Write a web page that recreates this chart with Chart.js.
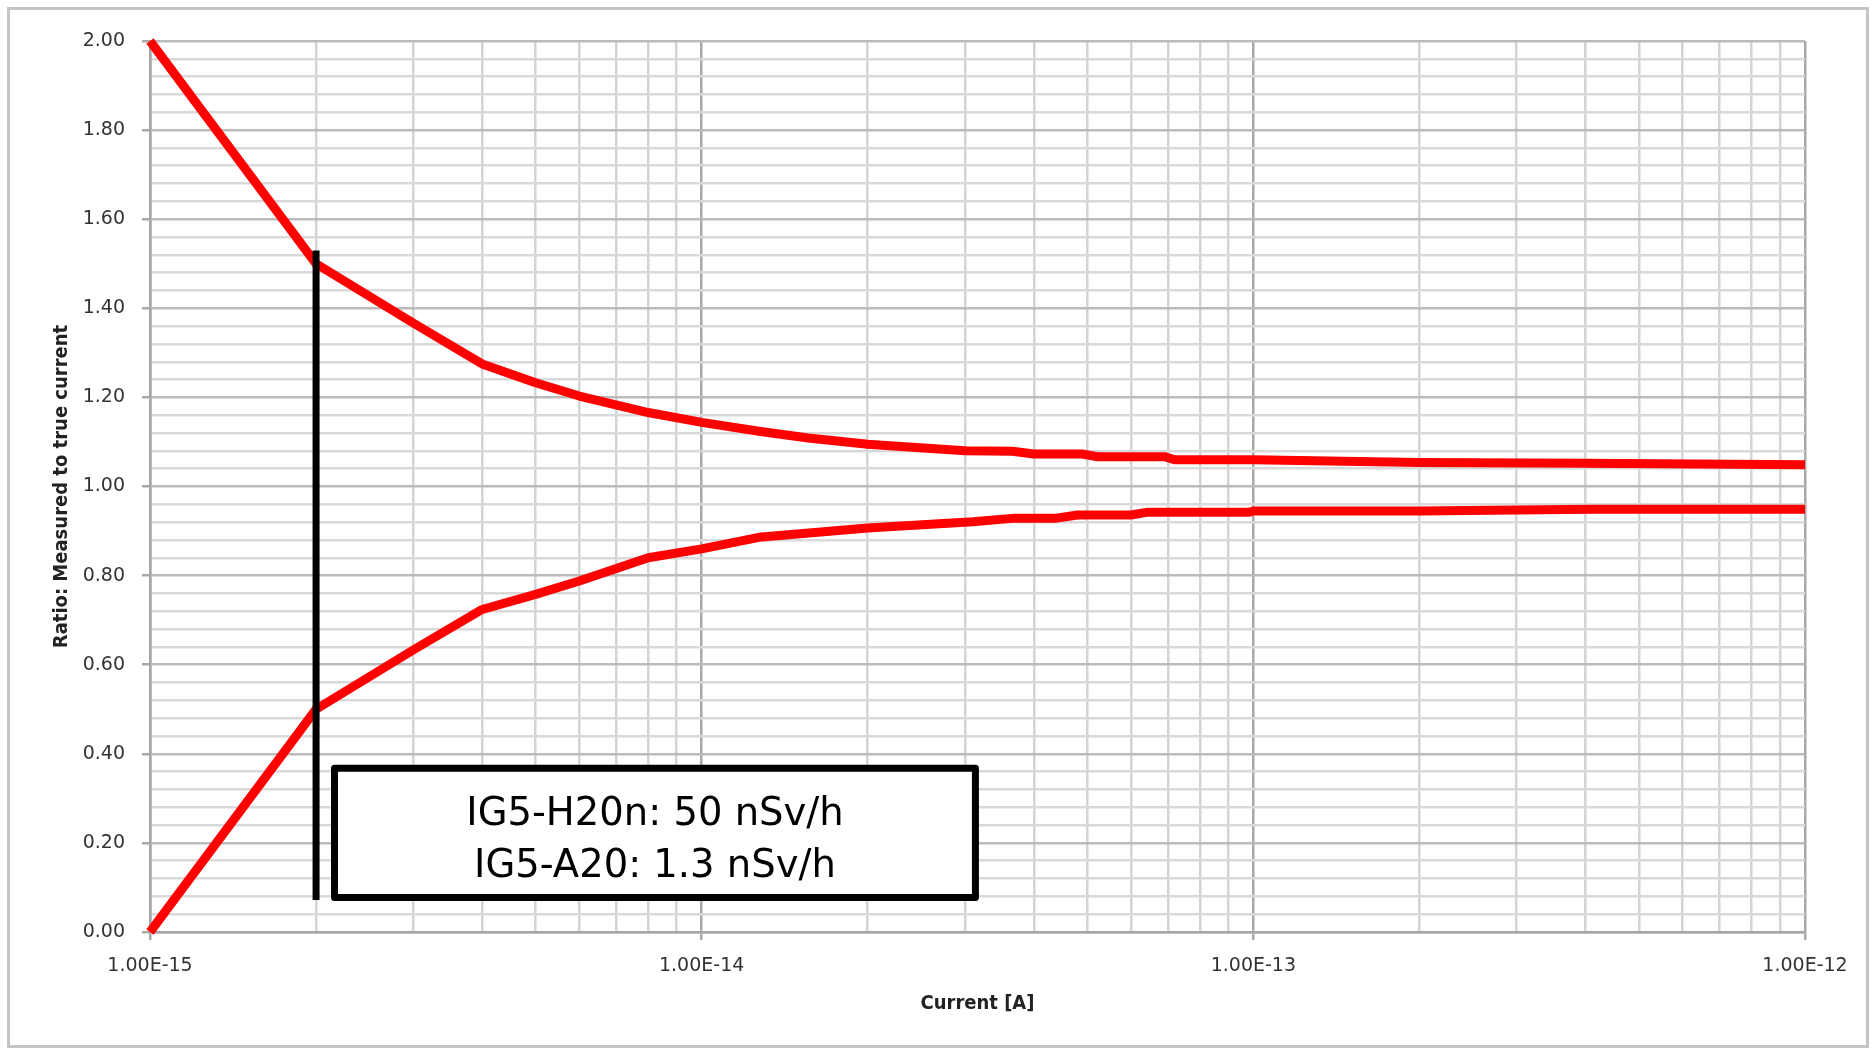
<!DOCTYPE html>
<html>
<head>
<meta charset="utf-8">
<script src="https://cdn.jsdelivr.net/npm/chart.js@4.4.1/dist/chart.umd.min.js"></script>
<style>
  html, body { margin: 0; padding: 0; background: #ffffff; }
  #wrap { position: relative; width: 1875px; height: 1052px; }
</style>
</head>
<body>
<div id="wrap"><canvas id="c" width="1875" height="1052"></canvas></div>
<script>
// ---- data ----
const upperCurrent = [1e-15, 2e-15, 3e-15, 4e-15, 5e-15, 6e-15, 8e-15, 1e-14, 1.27e-14, 1.56e-14, 2e-14, 3e-14, 3.66e-14, 4.0e-14, 4.9e-14, 5.2e-14, 6.9e-14, 7.2e-14, 1e-13, 2e-13, 4e-13, 1e-12];
const upperRatio   = [2.00, 1.50, 1.367, 1.275, 1.233, 1.203, 1.166, 1.144, 1.124, 1.109, 1.095, 1.080, 1.079, 1.073, 1.073, 1.067, 1.067, 1.060, 1.060, 1.054, 1.052, 1.049];

const lowerCurrent = [1e-15, 2e-15, 3e-15, 4e-15, 5e-15, 6e-15, 8e-15, 1e-14, 1.27e-14, 2e-14, 3.1e-14, 3.7e-14, 4.4e-14, 4.8e-14, 6e-14, 6.4e-14, 9.8e-14, 1e-13, 2e-13, 4.1e-13, 1e-12];
const lowerRatio   = [0.00, 0.50, 0.633, 0.724, 0.758, 0.788, 0.840, 0.860, 0.886, 0.907, 0.921, 0.929, 0.929, 0.936, 0.936, 0.942, 0.942, 0.945, 0.945, 0.949, 0.949];

const markerCurrent = [2e-15, 2e-15];
const markerRatio   = [1.53, 0.072];

// tick labels / grid
const xDecades = [1e-15, 1e-14, 1e-13, 1e-12];
const xMinorMultiples = [2, 3, 4, 5, 6, 7, 8, 9];
const yMajorTicks = [0.00, 0.20, 0.40, 0.60, 0.80, 1.00, 1.20, 1.40, 1.60, 1.80, 2.00];
const yMinorPerMajor = 5;

// annotation box (data units)
const boxX = [2.16e-15, 3.135e-14];
const boxY = [0.3674, 0.0775];
const boxLines = ['IG5-H20n: 50 nSv/h', 'IG5-A20: 1.3 nSv/h'];
const boxLineBaselines = [0.2404, 0.1236];

const xTitle = 'Current [A]';
const yTitle = 'Ratio: Measured to true current';

// ---- helpers ----
const toXY = (xs, ys) => xs.map((x, i) => ({ x: x, y: ys[i] }));

const frameAndBox = {
  id: 'frameAndBox',
  beforeDraw(chart) {
    const ctx = chart.ctx;
    ctx.save();
    ctx.fillStyle = '#ffffff';
    ctx.fillRect(0, 0, chart.width, chart.height);
    ctx.restore();
  },
  afterDraw(chart) {
    const ctx = chart.ctx;
    const xs = chart.scales.x, ys = chart.scales.y;
    // annotation box
    const l = xs.getPixelForValue(boxX[0]), r = xs.getPixelForValue(boxX[1]);
    const t = ys.getPixelForValue(boxY[0]), b = ys.getPixelForValue(boxY[1]);
    ctx.save();
    ctx.fillStyle = '#ffffff';
    ctx.fillRect(l, t, r - l, b - t);
    ctx.lineWidth = 7;
    ctx.strokeStyle = '#000000';
    ctx.lineJoin = 'round';
    ctx.strokeRect(l, t, r - l, b - t);
    ctx.fillStyle = '#000000';
    ctx.font = '38.5px "DejaVu Sans"';
    ctx.textAlign = 'center';
    ctx.textBaseline = 'alphabetic';
    const cx = (l + r) / 2;
    boxLines.forEach((s, i) => ctx.fillText(s, cx, ys.getPixelForValue(boxLineBaselines[i])));
    ctx.restore();
    // outer frame
    ctx.save();
    ctx.strokeStyle = '#c4c4c4';
    ctx.lineWidth = 3;
    ctx.strokeRect(8.5, 8.5, chart.width - 16, chart.height - 14);
    ctx.restore();
  }
};

new Chart(document.getElementById('c'), {
  type: 'line',
  data: {
    datasets: [
      { data: toXY(upperCurrent, upperRatio), borderColor: '#ff0000', borderWidth: 9, pointRadius: 0, tension: 0, clip: false, borderJoinStyle: 'round', order: 2 },
      { data: toXY(lowerCurrent, lowerRatio), borderColor: '#ff0000', borderWidth: 9, pointRadius: 0, tension: 0, clip: false, borderJoinStyle: 'round', order: 2 },
      { data: toXY(markerCurrent, markerRatio), borderColor: '#000000', borderWidth: 7, pointRadius: 0, tension: 0, clip: false, order: 1 }
    ]
  },
  options: {
    responsive: false,
    animation: false,
    events: [],
    layout: { padding: { left: 0, top: 41, right: 70, bottom: 0 } },
    plugins: { legend: { display: false }, tooltip: { enabled: false } },
    scales: {
      x: {
        type: 'logarithmic',
        min: xDecades[0],
        max: xDecades[xDecades.length - 1],
        afterBuildTicks(scale) {
          const t = [];
          xDecades.forEach((d, i) => {
            t.push({ value: d, major: true });
            if (i < xDecades.length - 1) xMinorMultiples.forEach(m => t.push({ value: d * m, major: false }));
          });
          scale.ticks = t;
        },
        afterFit(scale) { scale.height = 120; },
        grid: {
          color: c => (c.tick && c.tick.major) ? '#a9a9a9' : '#d4d4d4',
          lineWidth: 2.5,
          tickLength: 8,
          tickColor: c => (c.tick && c.tick.major) ? '#a9a9a9' : 'rgba(0,0,0,0)'
        },
        border: { color: '#a6a6a6', width: 2.5 },
        ticks: {
          autoSkip: false,
          maxRotation: 0,
          minRotation: 0,
          padding: 15,
          color: '#333333',
          font: { family: 'DejaVu Sans', size: 19 },
          callback(value, index, ticks) {
            return ticks[index].major ? Number(value).toExponential(2).toUpperCase() : '';
          }
        },
        title: {
          display: true,
          text: xTitle,
          color: '#222222',
          font: { family: 'DejaVu Sans Condensed', size: 20, weight: 'bold' },
          padding: { top: 0, bottom: 36 }
        }
      },
      y: {
        type: 'linear',
        min: yMajorTicks[0],
        max: yMajorTicks[yMajorTicks.length - 1],
        afterBuildTicks(scale) {
          const t = [];
          yMajorTicks.forEach((v, i) => {
            t.push({ value: v, major: true });
            if (i < yMajorTicks.length - 1) {
              const step = (yMajorTicks[i + 1] - v) / yMinorPerMajor;
              for (let k = 1; k < yMinorPerMajor; k++) t.push({ value: v + k * step, major: false });
            }
          });
          scale.ticks = t;
        },
        afterFit(scale) { scale.width = 150; },
        grid: {
          color: c => (c.tick && c.tick.major) ? '#bbbbbb' : '#d9d9d9',
          lineWidth: 2.5,
          tickLength: 8,
          tickColor: c => (c.tick && c.tick.major) ? '#a9a9a9' : 'rgba(0,0,0,0)'
        },
        border: { color: '#a6a6a6', width: 2.5 },
        ticks: {
          autoSkip: false,
          padding: 17,
          color: '#333333',
          font: { family: 'DejaVu Sans', size: 19 },
          callback(value, index, ticks) {
            return ticks[index].major ? Number(value).toFixed(2) : '';
          }
        },
        title: {
          display: true,
          text: yTitle,
          color: '#222222',
          font: { family: 'DejaVu Sans Condensed', size: 20, weight: 'bold' },
          padding: { top: 50, bottom: 0 }
        }
      }
    }
  },
  plugins: [frameAndBox]
});
</script>
</body>
</html>
